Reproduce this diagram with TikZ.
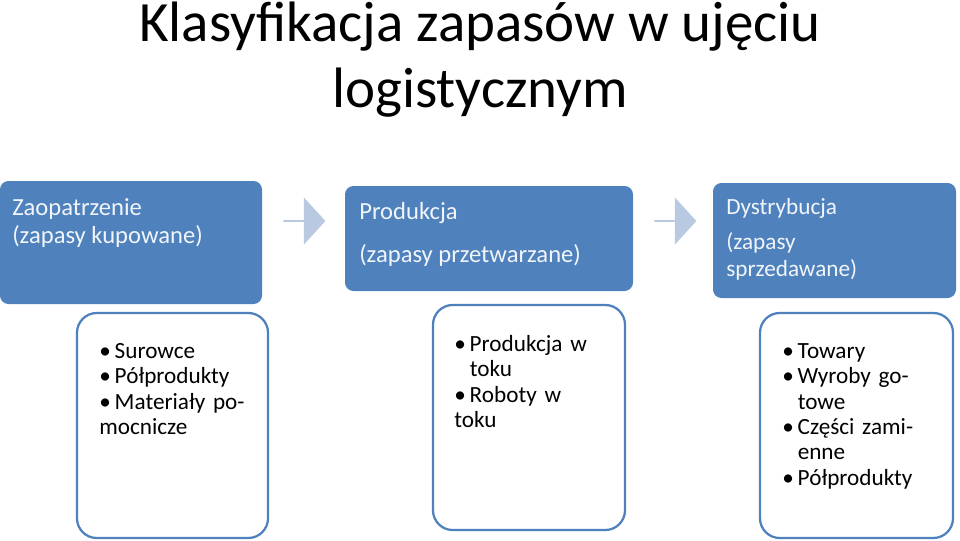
\documentclass[tikz,border=0pt]{standalone}
\usepackage{fontspec}
\setmainfont{Carlito}
\usetikzlibrary{shapes.arrows,positioning}
\definecolor{hdblue}{HTML}{4F81BD}
\definecolor{arrblue}{HTML}{B9C9E1}
\newcommand{\bitem}[1]{\par\noindent\hangindent=11pt\hangafter=1\makebox[11pt][l]{\textbullet}#1}
\tikzset{
  head/.style={text=white!92!hdblue,font=\fontsize{17.5}{20}\selectfont,align=left,
    anchor=north west,inner sep=0pt},
  hdbox/.style={fill=hdblue,rounded corners=6pt},
  list/.style={draw=hdblue,line width=1.6pt,fill=white,rounded corners=14pt},
  items/.style={font=\fontsize{16.5}{18}\selectfont,align=left,anchor=north west,inner sep=0pt,text width=3.9cm},
  blockarr/.style={single arrow,fill=arrblue,minimum height=1.05cm,minimum width=1.18cm,
    single arrow head extend=0.175cm,single arrow tip angle=95,inner sep=0pt}
}
\begin{document}
\begin{tikzpicture}[x=0.025cm,y=-0.025cm]
  \useasboundingbox (0,0) rectangle (960,540);
  % title
  \node (title) at (480,60) [align=center,font=\fontsize{40.5}{47}\selectfont] {Klasyfikacja zapasów w ujęciu\\logistycznym};
  % headers
  \fill[hdbox] (0,181) rectangle (262,304);
  \fill[hdbox] (345,186) rectangle (633,291);
  \fill[hdbox] (713,183) rectangle (956,298);
  \node (zao) [head] at (12,198) {Zaopatrzenie\\(zapasy kupowane)};
  \node (prod) [head,font=\fontsize{17.5}{31}\selectfont] at (359,202) {Produkcja\\(zapasy przetwarzane)};
  \node (dys) [head,font=\fontsize{16.5}{19}\selectfont] at (726,198) {Dystrybucja\\[6pt](zapasy\\sprzedawane)};
  % arrows
  \node (a1) [blockarr] at (304,221) {};
  \node (a2) [blockarr] at (675,221) {};
  % lists
  \draw[list] (77,313) rectangle (268,538);
  \draw[list] (433,305) rectangle (625,530);
  \draw[list] (760,313) rectangle (953,538);
  \node (l1) [items] at (99,333) {\bitem{Surowce}\bitem{Półprodukty}\bitem{Materiały pomocnicze}};
  \node (l2) [items,text width=3.6cm] at (454,326) {\bitem{Produkcja w toku}\bitem{Roboty w toku}};
  \node (l3) [items,text width=3.9cm] at (782,333) {\bitem{Towary}\bitem{Wyroby gotowe}\bitem{Części zamienne}\bitem{Półprodukty}};
\end{tikzpicture}
\end{document}
